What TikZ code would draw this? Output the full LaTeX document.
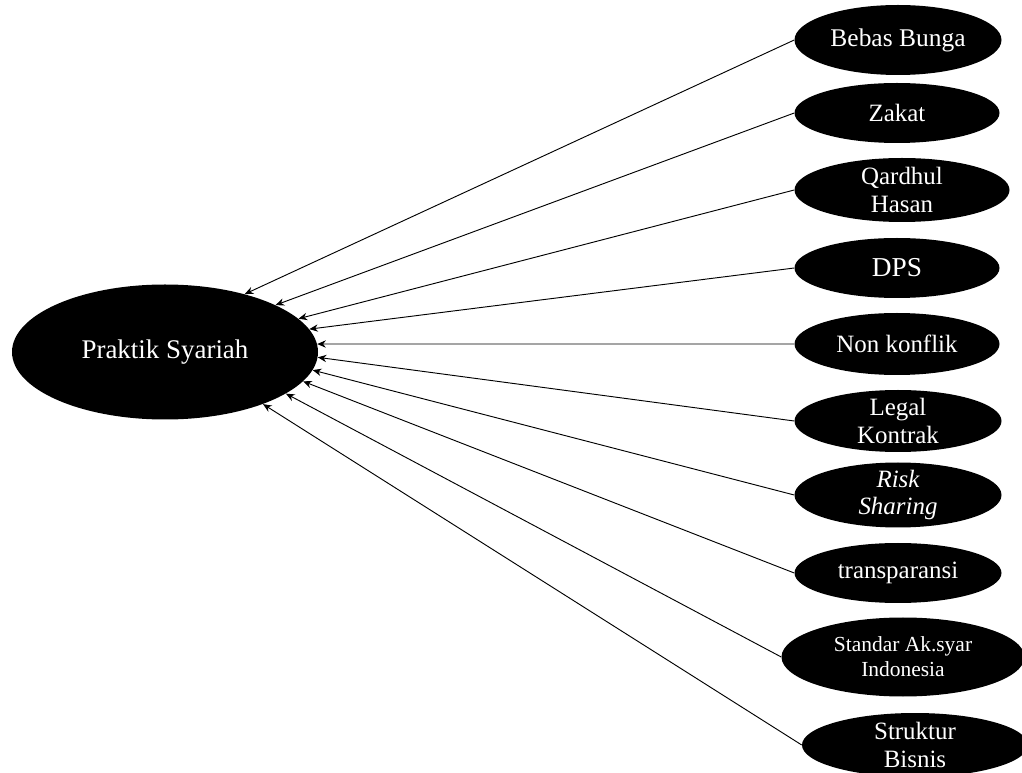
\documentclass[tikz,border=0pt]{standalone}
\usepackage{fontspec}
\setmainfont{Liberation Serif}
\usetikzlibrary{shapes.geometric, arrows.meta}

\begin{document}
\begin{tikzpicture}[x=0.75pt,y=-0.75pt,
    pill/.style={ellipse, fill=black, text=white, inner xsep=2pt, inner ysep=0pt,
        minimum width=155.25pt, minimum height=45pt, align=center,
        font=\fontsize{18.7}{20.5}\selectfont},
    twoline/.style={inner ysep=-4pt},
    arr/.style={-{Stealth[length=6.5pt,width=5.5pt]}, line width=0.7pt}]
    \useasboundingbox (0,0) rectangle (1022,773);
    % pusat
    \node[pill, minimum width=229.5pt, minimum height=101.25pt,
        font=\fontsize{20.2}{22}\selectfont] (praktik) at (165,352) {Praktik Syariah};
    % indikator
    \node[pill, minimum height=52.5pt, font=\fontsize{19.1}{21}\selectfont] (bebas) at (898,40) {Bebas Bunga};
    \node[pill, minimum width=153.75pt] (zakat) at (897,113) {Zakat};
    \node[pill, twoline, minimum width=161.25pt, minimum height=48pt] (qardhul) at (902,190) {Qardhul\\Hasan};
    \node[pill, minimum width=153.75pt, font=\fontsize{20.5}{22}\selectfont] (dps) at (897,268) {DPS};
    \node[pill, minimum width=153.75pt, minimum height=46.5pt] (konflik) at (897,344) {Non konflik};
    \node[pill, twoline, minimum height=46.5pt] (legal) at (898,421) {Legal\\Kontrak};
    \node[pill, twoline, minimum height=48.75pt,
        font=\fontsize{18.7}{20.5}\selectfont\itshape] (risk) at (898,495) {Risk\\Sharing};
    \node[pill] (transparan) at (898,573) {transparansi};
    \node[pill, twoline, minimum width=182.25pt, minimum height=59.25pt,
        font=\fontsize{16.1}{18.75}\selectfont] (standar) at (903,657) {Standar Ak.syar\\Indonesia};
    \node[pill, twoline, minimum width=169.5pt, minimum height=48pt] (struktur) at (915,745) {Struktur\\Bisnis};
    % panah
    \draw[arr] (bebas.west) -- (praktik.36);
    \draw[arr] (zakat.west) -- (praktik.23.8);
    \draw[arr] (qardhul.west) -- (praktik.14);
    \draw[arr] (dps.west) -- (praktik.9.8);
    \draw[arr] (konflik.west) -- (praktik.3.2);
    \draw[arr] (legal.west) -- (praktik.-2.1);
    \draw[arr] (risk.west) -- (praktik.-7.8);
    \draw[arr] (transparan.west) -- (praktik.-12.2);
    \draw[arr] (standar.west) -- (praktik.-19.5);
    \draw[arr] (struktur.west) -- (praktik.-28.1);
\end{tikzpicture}
\end{document}
